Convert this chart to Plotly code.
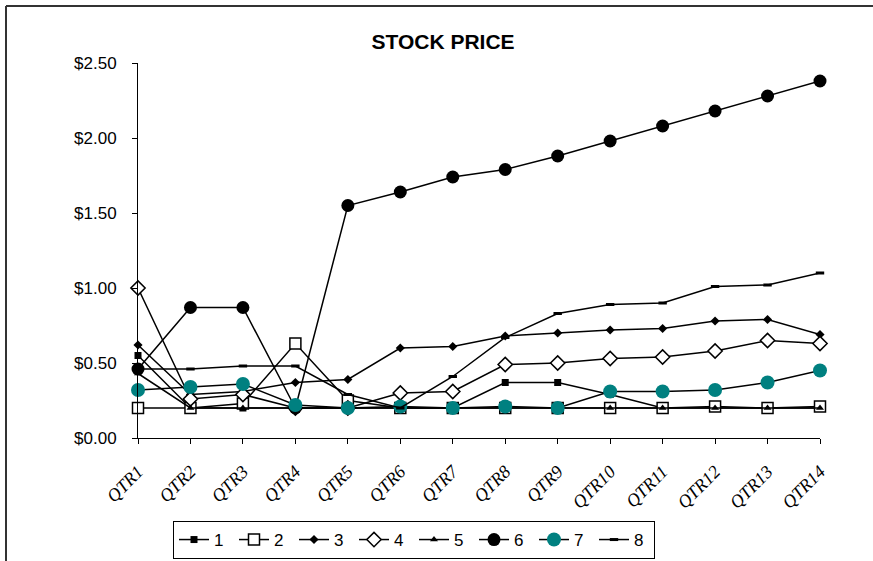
import plotly.graph_objects as go

# =============================================================================
# Data
# =============================================================================

quarters = [f"QTR{i}" for i in range(1, 15)]

s1 = [0.55, 0.20, 0.20, 0.20, 0.20, 0.20, 0.20, 0.37, 0.37, 0.29, 0.20, 0.20, 0.20, 0.20]
s2 = [0.20, 0.20, 0.23, 0.63, 0.25, 0.20, 0.20, 0.20, 0.20, 0.20, 0.20, 0.21, 0.20, 0.21]
s3 = [0.62, 0.29, 0.31, 0.37, 0.39, 0.60, 0.61, 0.68, 0.70, 0.72, 0.73, 0.78, 0.79, 0.69]
s4 = [1.00, 0.26, 0.29, 0.20, 0.20, 0.30, 0.31, 0.49, 0.50, 0.53, 0.54, 0.58, 0.65, 0.63]
s5 = [0.43, 0.20, 0.20, 0.20, 0.20, 0.20, 0.20, 0.20, 0.20, 0.20, 0.20, 0.20, 0.20, 0.20]
s6 = [0.46, 0.87, 0.87, 0.20, 1.55, 1.64, 1.74, 1.79, 1.88, 1.98, 2.08, 2.18, 2.28, 2.38]
s7 = [0.32, 0.34, 0.36, 0.22, 0.20, 0.21, 0.20, 0.21, 0.20, 0.31, 0.31, 0.32, 0.37, 0.45]
s8 = [0.46, 0.46, 0.48, 0.48, 0.29, 0.20, 0.41, 0.67, 0.83, 0.89, 0.90, 1.01, 1.02, 1.10]

series = [("1", s1), ("2", s2), ("3", s3), ("4", s4),
          ("5", s5), ("6", s6), ("7", s7), ("8", s8)]

# =============================================================================
# Styles
# =============================================================================

TEAL = "#008080"
markers = {
    "1": dict(symbol="square", size=7, color="black"),
    "2": dict(symbol="square", size=11, color="white", line=dict(color="black", width=1.5)),
    "3": dict(symbol="diamond", size=7, color="black"),
    "4": dict(symbol="diamond", size=11, color="white", line=dict(color="black", width=1.5)),
    "5": dict(symbol="triangle-up", size=7, color="black"),
    "6": dict(symbol="circle", size=13, color="black"),
    "7": dict(symbol="circle", size=14, color=TEAL),
    "8": dict(symbol="line-ew-open", size=6, color="black", line=dict(color="black", width=3)),
}

# plot area in pixels
L, R, T, B = 138, 53, 63, 123
W, H = 873, 561
PW, PH = W - L - R, H - T - B


def px_x(p):
    return (p - L) / PW


def px_y(p):
    return (H - B - p) / PH


fig = go.Figure()

for name, vals in series:
    fig.add_trace(
        go.Scatter(
            x=quarters,
            y=vals,
            name=name,
            mode="lines+markers",
            line=dict(color="black", width=1.5),
            marker=markers[name],
            cliponaxis=False,
        )
    )

fig.update_xaxes(
    type="category",
    range=[0, 13],
    automargin=False,
    showline=True,
    linecolor="black",
    linewidth=1,
    ticks="outside",
    ticklen=5,
    tickcolor="black",
    tickangle=-45,
    ticklabelstandoff=10,
    tickfont=dict(family="Liberation Serif", size=18, color="black", style="italic"),
    showgrid=False,
    zeroline=False,
)
fig.update_yaxes(
    range=[0, 2.5],
    dtick=0.5,
    automargin=False,
    tickprefix="$",
    tickformat=".2f",
    showline=True,
    linecolor="black",
    linewidth=1,
    ticks="outside",
    ticklen=5,
    tickcolor="black",
    ticklabelstandoff=12,
    tickfont=dict(family="Liberation Sans", size=17, color="black"),
    showgrid=False,
    zeroline=False,
)

# outer frame (top and left edges)
fig.add_shape(type="line", xref="paper", yref="paper",
              x0=px_x(6), x1=px_x(W + 5), y0=px_y(6), y1=px_y(6),
              line=dict(color="#333333", width=2))
fig.add_shape(type="line", xref="paper", yref="paper",
              x0=px_x(6), x1=px_x(6), y0=px_y(6), y1=px_y(H + 5),
              line=dict(color="#333333", width=2))

fig.update_layout(
    width=W,
    height=H,
    margin=dict(l=L, r=R, t=T, b=B, autoexpand=False),
    plot_bgcolor="white",
    paper_bgcolor="white",
    title=dict(
        text="<b>STOCK PRICE</b>",
        font=dict(family="Liberation Sans", size=21, color="black"),
        x=443 / W,
        xanchor="center",
        y=1 - 42 / H,
        yanchor="middle",
    ),
    legend=dict(
        orientation="h",
        x=px_x(173),
        xanchor="left",
        y=px_y(521),
        yanchor="top",
        bordercolor="black",
        borderwidth=1,
        bgcolor="white",
        font=dict(family="Liberation Sans", size=17, color="black"),
        itemwidth=30,
        entrywidth=15,
        tracegroupgap=0,
    ),
    showlegend=True,
)

fig.write_html(
    "out.html",
    config={"displayModeBar": False},
    post_script="document.body.style.margin='0';",
)
